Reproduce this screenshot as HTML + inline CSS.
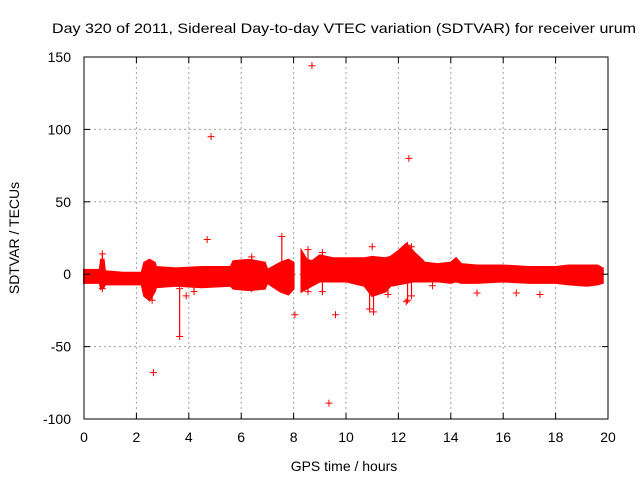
<!DOCTYPE html>
<html><head><meta charset="utf-8"><style>
body{margin:0;background:#fff;}
svg{display:block;font-family:"Liberation Sans",Arial,sans-serif;}
</style></head><body>
<svg id="chart" width="640" height="480" xmlns="http://www.w3.org/2000/svg">
<rect width="640" height="480" fill="#fff"/>
<text x="52" y="33" font-size="14" textLength="584" lengthAdjust="spacingAndGlyphs">Day 320 of 2011, Sidereal Day-to-day VTEC variation (SDTVAR) for receiver urum</text>
<g id="grid"></g>
<g id="data"></g>
<g id="axes"></g>
<text x="344" y="471" font-size="14" text-anchor="middle">GPS time / hours</text>
<text transform="translate(19,238) rotate(-90)" font-size="14" text-anchor="middle">SDTVAR / TECUs</text>
</svg>
<script>
const xTicks=[0,2,4,6,8,10,12,14,16,18,20];
const yTicks=[-100,-50,0,50,100,150];
// band segments: hours, upper, lower (TECU)
const bandAHours=[0,0.6,0.65,0.75,0.8,1.5,2.2,2.3,2.5,2.7,2.75,3.5,4.5,5.6,5.7,6.3,6.9,7.0,7.5,7.8,8.0];
const bandAUpper=[3,3,10,10,2,1,1,8,10,8,5,4,5,5,9,10,8,3,8,10,8];
const bandALower=[-6,-6,-10,-9,-7,-7,-7,-15,-18,-12,-9,-8,-9,-8,-10,-11,-10,-6,-12,-14,-10];
const bandBHours=[8.3,8.5,8.7,9.0,9.5,10.0,10.7,11.0,11.5,11.7,12.0,12.3,12.6,12.9,13.0,13.5,14.0,14.2,14.4,15.0,16.0,17.0,18.0,18.5,19.2,19.6,19.8];
const bandBUpper=[16,10,9,13,11,11,11,12,11,12,16,21,15,10,8,7,8,11,7,6,6,5,5,6,6,6,4];
const bandBLower=[-12,-10,-8,-5,-5,-5,-8,-15,-12,-8,-7,-6,-5,-5,-5,-5,-6,-5,-6,-6,-5,-6,-6,-7,-8,-7,-6];
// vertical spikes: hour, low, high
const spikeHours=[0.7,2.6,3.65,4.2,6.4,7.55,8.55,9.1,10.9,11.05,11.6,12.35,12.5];
const spikeLow=[-10,-18,-43,-12,-10,-8,-12,-12,-24,-26,-14,-18,-15];
const spikeHigh=[14,5,-10,3,12,26,17,15,0,-3,5,20,19];
// isolated outliers
const outHours=[4.85,8.7,12.4,2.65,9.35,4.7,8.05,9.6,11.0,12.3,15.0,16.5,17.4,13.3,3.9];
const outValues=[95,144,80,-68,-89,24,-28,-28,19,-19,-13,-13,-14,-8,-15];

const X0=84,X1=608,Y0=419,Y1=57;
const xs=h=>X0+(h-0)/20*(X1-X0);
const ys=v=>Y0-(v+100)/250*(Y0-Y1);
const NS="http://www.w3.org/2000/svg";
function mk(tag,attrs,parent){const e=document.createElementNS(NS,tag);for(const k in attrs)e.setAttribute(k,attrs[k]);parent.appendChild(e);return e;}
const grid=document.getElementById('grid'),axes=document.getElementById('axes'),data=document.getElementById('data');
xTicks.forEach(t=>{
  const x=xs(t);
  if(t>0&&t<20){const g=mk('line',{x1:x,x2:x,y1:Y1,y2:Y0,stroke:'#a0a0a0','stroke-dasharray':'2,3'},grid);
  
  }
  mk('line',{x1:x,x2:x,y1:Y0,y2:Y0-6,stroke:'#000'},axes);
  mk('line',{x1:x,x2:x,y1:Y1,y2:Y1+6,stroke:'#000'},axes);
  const l=mk('text',{x:x,y:Y0+23,'font-size':14,'text-anchor':'middle'},axes);l.textContent=t;
  
  
});
yTicks.forEach(t=>{
  const y=ys(t);
  if(t>-100&&t<150){const g=mk('line',{x1:X0,x2:X1,y1:y,y2:y,stroke:'#a0a0a0','stroke-dasharray':'2,3'},grid);
  
  }
  mk('line',{x1:X0,x2:X0+6,y1:y,y2:y,stroke:'#000'},axes);
  mk('line',{x1:X1,x2:X1-6,y1:y,y2:y,stroke:'#000'},axes);
  const l=mk('text',{x:X0-13,y:y+5,'font-size':14,'text-anchor':'end'},axes);l.textContent=t;
  
  
});
mk('rect',{x:X0,y:Y1,width:X1-X0,height:Y0-Y1,fill:'none',stroke:'#000'},axes);
function band(h,u,l,name){
  let pts=h.map((v,i)=>xs(v)+','+ys(u[i]));
  for(let i=h.length-1;i>=0;i--)pts.push(xs(h[i])+','+ys(l[i]));
  const p=mk('polygon',{points:pts.join(' '),fill:'#f00',stroke:'#f00','stroke-width':2},data);
  
  
}
band(bandAHours,bandAUpper,bandALower,'band-segment-a');
band(bandBHours,bandBUpper,bandBLower,'band-segment-b');
function cross(x,y){mk('path',{d:`M${x-3.5},${y}h7M${x},${y-3.5}v7`,stroke:'#f00','stroke-width':1},data);}
spikeHours.forEach((h,i)=>{
  const x=xs(h);
  const s=mk('line',{x1:x,x2:x,y1:ys(spikeLow[i]),y2:ys(spikeHigh[i]),stroke:'#f00','stroke-width':1.2},data);
  
  
  cross(x,ys(spikeLow[i]));cross(x,ys(spikeHigh[i]));
});
outHours.forEach((h,i)=>{
  const g=mk('path',{d:`M${xs(h)-3.5},${ys(outValues[i])}h7M${xs(h)},${ys(outValues[i])-3.5}v7`,stroke:'#f00','stroke-width':1},data);
  
  
});
</script>
</body></html>
